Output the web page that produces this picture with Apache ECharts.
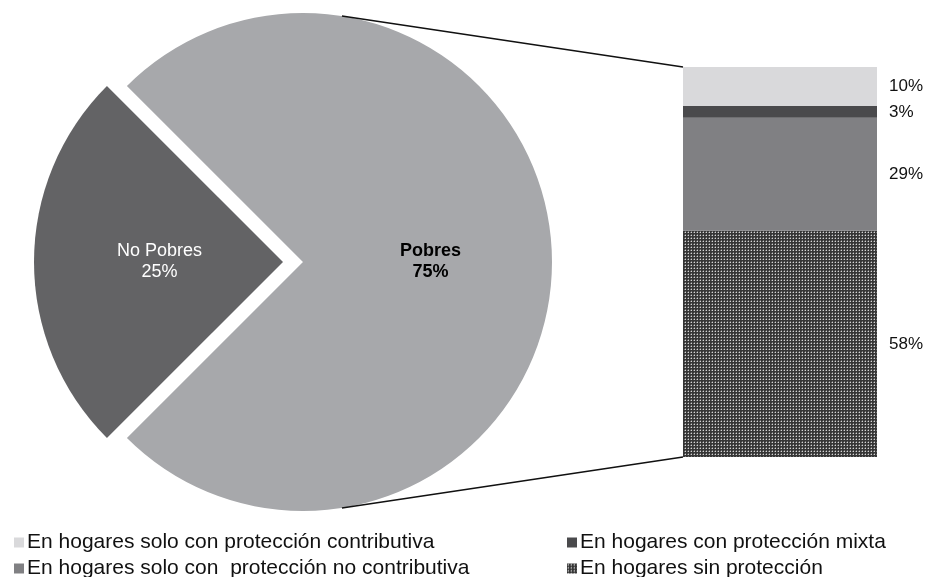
<!DOCTYPE html>
<html>
<head>
<meta charset="utf-8">
<script src="https://cdn.jsdelivr.net/npm/echarts@6/dist/echarts.min.js"></script>
<style>html,body{margin:0;padding:0;background:#fff}#c{width:928px;height:577px}</style>
</head>
<body>
<div id="c"></div>
<script>
// Pie data
const pieNames = ['Pobres', 'No Pobres'];
const pieValues = [75, 25];
// Bar (breakdown of Pobres)
const barNames = ['En hogares sin protección', 'En hogares solo con  protección no contributiva', 'En hogares con protección mixta', 'En hogares solo con protección contributiva'];
const barValues = [58, 29, 3, 10];
const barCategories = [''];

// layout
const PIE_CX = 303, PIE_CY = 262, PIE_R = 249;
const G_LEFT = 683, G_TOP = 67, G_W = 194, G_H = 390;
const FONT = 'Liberation Sans, Arial, sans-serif';

function makePattern() {
  const c = document.createElement('canvas');
  c.width = 3; c.height = 3;
  const ctx = c.getContext('2d');
  ctx.fillStyle = '#363636';
  ctx.fillRect(0, 0, 3, 3);
  ctx.fillStyle = '#d4d4d4';
  ctx.fillRect(1, 1, 1, 1);
  ctx.fillStyle = '#707070';
  ctx.fillRect(1, 0, 1, 1);
  ctx.fillRect(0, 1, 1, 1);
  return c;
}
const pattern = { image: makePattern(), repeat: 'repeat' };
const barColors = [pattern, '#808083', '#4a4a4c', '#d9d9db'];

const chart = echarts.init(document.getElementById('c'), null, { renderer: 'canvas' });

const barSeries = barNames.map((n, i) => ({
  name: n,
  type: 'bar',
  stack: 'pobres',
  barWidth: '100%',
  data: [barValues[i]],
  itemStyle: { color: barColors[i] },
  label: {
    show: true, position: 'right', distance: 12,
    formatter: '{c}%', color: '#111', fontSize: 17, fontFamily: FONT,
    padding: [3, 0, 0, 0]
  },
  emphasis: { disabled: true }
}));

const angTop = 81 * Math.PI / 180;
const px = PIE_CX + PIE_R * Math.cos(angTop);
const pyTop = PIE_CY - PIE_R * Math.sin(angTop);
const pyBot = PIE_CY + PIE_R * Math.sin(angTop);

function legendText() {
  return { fontSize: 21, fontFamily: FONT, color: '#111', lineHeight: 20, padding: [0, 0, 0, -2] };
}

chart.setOption({
  animation: false,
  backgroundColor: '#fff',
  grid: { left: G_LEFT, top: G_TOP, width: G_W, height: G_H },
  xAxis: { type: 'category', data: barCategories, show: false },
  yAxis: { type: 'value', min: 0, max: 100, show: false },
  legend: [
    {
      orient: 'vertical', left: 14, top: 532, height: 80, padding: 0, itemGap: 5,
      itemWidth: 10, itemHeight: 10, icon: 'rect', selectedMode: false,
      data: [barNames[3], barNames[1]],
      textStyle: legendText()
    },
    {
      orient: 'vertical', left: 567, top: 532, height: 80, padding: 0, itemGap: 5,
      itemWidth: 10, itemHeight: 10, icon: 'rect', selectedMode: false,
      data: [barNames[2], barNames[0]],
      textStyle: legendText()
    }
  ],
  series: [
    {
      type: 'pie',
      center: [PIE_CX, PIE_CY],
      radius: PIE_R,
      startAngle: 135,
      selectedMode: 'single',
      selectedOffset: 20,
      emphasis: { disabled: true },
      labelLine: { show: false },
      data: [
        {
          name: pieNames[0], value: pieValues[0],
          itemStyle: { color: '#a7a8ab' },
          label: { show: true, position: 'inside', formatter: '{b}\n{c}%', color: '#000', fontWeight: 'bold', fontSize: 18, lineHeight: 21, fontFamily: FONT, padding: [3, 0, 0, 0] }
        },
        {
          name: pieNames[1], value: pieValues[1], selected: true,
          itemStyle: { color: '#636365' },
          select: { itemStyle: { color: '#636365' } },
          label: { show: true, position: 'inside', formatter: '{b}\n{c}%', color: '#fff', fontSize: 18, lineHeight: 21, fontFamily: FONT, padding: [3, 0, 0, 8] }
        }
      ]
    },
    ...barSeries
  ],
  graphic: [
    { type: 'line', shape: { x1: px, y1: pyTop, x2: G_LEFT, y2: G_TOP }, style: { stroke: '#111', lineWidth: 1.5 }, z: 10 },
    { type: 'line', shape: { x1: px, y1: pyBot, x2: G_LEFT, y2: G_TOP + G_H }, style: { stroke: '#111', lineWidth: 1.5 }, z: 10 }
  ]
});
</script>
</body>
</html>
